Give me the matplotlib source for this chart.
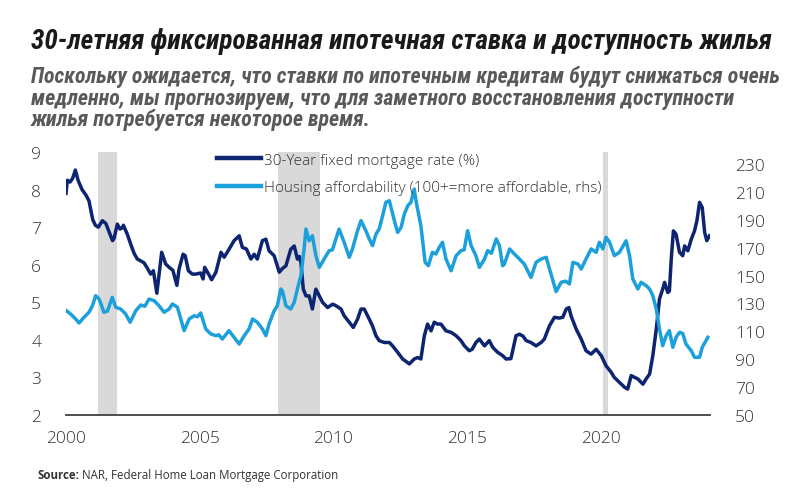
import matplotlib

matplotlib.use("Agg")

import matplotlib.pyplot as plt
from matplotlib import font_manager

# 30-year fixed mortgage rate, % (left axis)
rate_years = [
    2000.00, 2000.05, 2000.15, 2000.25, 2000.35, 2000.45, 2000.60, 2000.75, 2000.86, 2001.00,
    2001.10, 2001.21, 2001.36, 2001.49, 2001.60, 2001.74, 2001.80, 2001.92, 2002.02, 2002.10,
    2002.15, 2002.30, 2002.42, 2002.55, 2002.67, 2002.80, 2002.92, 2003.05, 2003.17, 2003.27,
    2003.40, 2003.58, 2003.73, 2003.86, 2004.00, 2004.15, 2004.23, 2004.38, 2004.46, 2004.58,
    2004.73, 2004.86, 2005.04, 2005.13, 2005.19, 2005.36, 2005.45, 2005.61, 2005.80, 2005.92,
    2006.10, 2006.29, 2006.48, 2006.60, 2006.75, 2006.92, 2007.04, 2007.16, 2007.35, 2007.48,
    2007.60, 2007.79, 2007.98, 2008.10, 2008.23, 2008.41, 2008.54, 2008.66, 2008.73, 2008.79,
    2008.88, 2008.98, 2009.10, 2009.22, 2009.35, 2009.48, 2009.60, 2009.79, 2009.98, 2010.10,
    2010.29, 2010.41, 2010.60, 2010.75, 2010.91, 2011.04, 2011.16, 2011.35, 2011.47, 2011.60,
    2011.72, 2011.91, 2012.10, 2012.22, 2012.41, 2012.60, 2012.85, 2013.03, 2013.16, 2013.28,
    2013.41, 2013.53, 2013.66, 2013.78, 2013.90, 2014.03, 2014.22, 2014.41, 2014.60, 2014.78,
    2014.91, 2015.09, 2015.20, 2015.34, 2015.47, 2015.66, 2015.84, 2015.97, 2016.15, 2016.34,
    2016.47, 2016.65, 2016.84, 2016.97, 2017.10, 2017.22, 2017.40, 2017.59, 2017.78, 2017.90,
    2018.09, 2018.28, 2018.45, 2018.59, 2018.72, 2018.82, 2018.90, 2019.09, 2019.28, 2019.46,
    2019.65, 2019.84, 2020.03, 2020.21, 2020.40, 2020.52, 2020.71, 2020.90, 2021.02, 2021.15,
    2021.28, 2021.40, 2021.59, 2021.71, 2021.84, 2021.96, 2022.09, 2022.21, 2022.33, 2022.40,
    2022.52, 2022.58, 2022.65, 2022.73, 2022.83, 2022.96, 2023.08, 2023.15, 2023.27, 2023.40,
    2023.52, 2023.61, 2023.71, 2023.81, 2023.90, 2023.98, 2024.08,
]
rate_values = [
    7.90, 8.25, 8.20, 8.30, 8.52, 8.25, 8.00, 7.85, 7.70, 7.20,
    7.05, 7.00, 7.17, 7.10, 6.90, 6.64, 6.70, 7.08, 6.95, 6.98,
    7.05, 6.80, 6.55, 6.30, 6.15, 6.10, 6.05, 5.90, 5.75, 5.84,
    5.24, 6.33, 6.02, 5.93, 5.85, 5.45, 5.88, 6.28, 6.24, 5.84,
    5.75, 5.75, 5.78, 5.62, 5.93, 5.72, 5.60, 5.80, 6.33, 6.20,
    6.41, 6.64, 6.77, 6.46, 6.42, 6.15, 6.28, 6.15, 6.64, 6.68,
    6.37, 6.24, 5.80, 5.90, 5.97, 6.41, 6.50, 6.15, 6.22, 6.06,
    5.35, 5.17, 5.17, 4.82, 5.35, 5.17, 5.00, 4.86, 4.95, 4.91,
    4.82, 4.64, 4.47, 4.33, 4.55, 4.82, 4.82, 4.55, 4.37, 4.11,
    3.98, 3.93, 3.93, 3.84, 3.67, 3.49, 3.36, 3.49, 3.53, 3.49,
    4.11, 4.42, 4.24, 4.47, 4.42, 4.42, 4.24, 4.20, 4.11, 3.98,
    3.84, 3.71, 3.75, 3.93, 4.02, 3.84, 3.98, 3.80, 3.67, 3.58,
    3.49, 3.50, 4.11, 4.15, 4.10, 3.98, 3.93, 3.84, 3.93, 4.02,
    4.37, 4.60, 4.58, 4.60, 4.82, 4.86, 4.64, 4.29, 4.02, 3.71,
    3.62, 3.75, 3.58, 3.31, 3.14, 3.00, 2.87, 2.74, 2.69, 3.05,
    3.00, 2.96, 2.82, 2.96, 3.09, 3.58, 4.29, 5.09, 5.35, 5.53,
    5.26, 5.30, 6.15, 6.90, 6.81, 6.33, 6.24, 6.50, 6.37, 6.68,
    6.90, 7.17, 7.66, 7.52, 6.86, 6.64, 6.77,
]

# Housing affordability index (right axis)
afford_years = [
    2000.00, 2000.17, 2000.36, 2000.49, 2000.67, 2000.86, 2000.99, 2001.11, 2001.24, 2001.42,
    2001.55, 2001.73, 2001.86, 2002.05, 2002.23, 2002.40, 2002.61, 2002.80, 2002.95, 2003.11,
    2003.30, 2003.48, 2003.67, 2003.86, 2003.98, 2004.17, 2004.42, 2004.61, 2004.79, 2004.92,
    2005.04, 2005.23, 2005.42, 2005.61, 2005.72, 2005.85, 2006.10, 2006.29, 2006.48, 2006.67,
    2006.85, 2006.98, 2007.16, 2007.35, 2007.48, 2007.60, 2007.79, 2007.91, 2008.04, 2008.10,
    2008.23, 2008.41, 2008.54, 2008.66, 2008.79, 2008.91, 2008.98, 2009.10, 2009.22, 2009.35,
    2009.48, 2009.66, 2009.85, 2009.97, 2010.10, 2010.22, 2010.41, 2010.60, 2010.72, 2010.91,
    2011.04, 2011.22, 2011.35, 2011.47, 2011.60, 2011.72, 2011.85, 2011.97, 2012.10, 2012.28,
    2012.41, 2012.54, 2012.66, 2012.79, 2012.91, 2013.03, 2013.12, 2013.28, 2013.44, 2013.56,
    2013.71, 2013.84, 2013.97, 2014.09, 2014.22, 2014.41, 2014.60, 2014.78, 2014.90, 2015.03,
    2015.16, 2015.34, 2015.47, 2015.66, 2015.78, 2015.92, 2016.10, 2016.22, 2016.34, 2016.40,
    2016.60, 2016.78, 2016.97, 2017.15, 2017.40, 2017.59, 2017.78, 2017.97, 2018.15, 2018.34,
    2018.53, 2018.70, 2018.84, 2018.97, 2019.16, 2019.28, 2019.46, 2019.65, 2019.84, 2019.96,
    2020.09, 2020.21, 2020.34, 2020.52, 2020.71, 2020.96, 2021.09, 2021.21, 2021.40, 2021.52,
    2021.71, 2021.84, 2021.96, 2022.09, 2022.21, 2022.33, 2022.46, 2022.58, 2022.71, 2022.83,
    2022.96, 2023.08, 2023.20, 2023.40, 2023.52, 2023.71, 2023.81, 2024.02,
]
afford_values = [
    125.0, 122.5, 118.9, 116.0, 120.0, 123.7, 128.4, 135.6, 133.2, 123.7,
    124.5, 134.4, 127.3, 126.0, 122.5, 116.5, 124.8, 128.9, 128.0, 133.2,
    132.0, 128.4, 123.7, 126.0, 129.6, 127.3, 110.5, 118.9, 121.2, 120.5,
    123.2, 111.7, 108.1, 106.9, 107.5, 104.5, 110.5, 105.7, 100.9, 106.9,
    111.7, 118.9, 116.5, 111.7, 106.9, 115.3, 124.8, 128.4, 140.4, 139.0,
    128.4, 126.0, 130.8, 140.4, 149.9, 169.1, 183.4, 175.0, 178.6, 164.3,
    155.9, 161.9, 167.9, 168.5, 176.3, 183.4, 173.9, 163.1, 169.1, 182.2,
    189.4, 182.2, 176.3, 171.5, 179.8, 183.4, 193.0, 202.6, 203.7, 190.0,
    181.0, 184.6, 194.2, 200.1, 202.6, 212.1, 201.4, 185.8, 159.5, 157.1,
    166.7, 165.5, 170.3, 173.9, 161.9, 153.5, 164.3, 167.9, 168.5, 182.2,
    171.5, 164.3, 155.9, 161.9, 167.9, 166.0, 176.3, 171.5, 157.1, 158.0,
    169.1, 165.5, 161.9, 158.3, 148.7, 159.5, 161.9, 163.1, 151.2, 138.5,
    145.2, 146.0, 144.0, 159.5, 158.3, 154.7, 161.9, 169.1, 166.7, 173.9,
    169.1, 177.5, 173.9, 164.3, 166.7, 175.0, 164.3, 147.6, 140.4, 145.2,
    142.8, 140.4, 135.6, 126.0, 111.7, 99.7, 106.9, 110.5, 98.6, 105.7,
    109.3, 108.5, 100.9, 96.1, 91.4, 91.4, 98.6, 105.7,
]

recessions = [(2001.2, 2001.9), (2007.95, 2009.5), (2020.1, 2020.3)]
year_ticks = [2000, 2005, 2010, 2015, 2020]
left_ticks = [2, 3, 4, 5, 6, 7, 8, 9]
right_ticks = [50, 70, 90, 110, 130, 150, 170, 190, 210, 230]

title = "30-летняя фиксированная ипотечная ставка и доступность жилья"
subtitle_lines = [
    "Поскольку ожидается, что ставки по ипотечным кредитам будут снижаться очень",
    "медленно, мы прогнозируем, что для заметного восстановления доступности",
    "жилья потребуется некоторое время.",
]
rate_label = "30-Year fixed mortgage rate (%)"
afford_label = "Housing affordability (100+=more affordable, rhs)"

NAVY = "#0d2471"
SKY = "#1ca0dc"
TEXT = "#333333"
W, H = 800, 489


def pick_font(*names):
    for name in names:
        try:
            font_manager.findfont(name, fallback_to_default=False)
            return name
        except ValueError:
            continue
    return "DejaVu Sans"


head_font = pick_font("Roboto Condensed", "Liberation Sans Narrow", "Roboto")
body_font = pick_font("Open Sans", "Noto Sans")

fig = plt.figure(figsize=(W / 100, H / 100), dpi=100)
renderer = fig.canvas.get_renderer()


def fit_width(text, target_px):
    width = text.get_window_extent(renderer).width
    text.set_fontsize(text.get_fontsize() * target_px / width)


# title and subtitle
t = fig.text(31 / W, 1 - 42 / H, title, family=head_font, weight="bold", style="italic",
             fontsize=16, color="#1a1a1a", va="center", ha="left")
fit_width(t, 743)

sub_texts = []
for line, y in zip(subtitle_lines, [77, 99, 120]):
    sub_texts.append(fig.text(31 / W, 1 - y / H, line, family=head_font, weight="bold",
                              style="italic", fontsize=12, color="#595959", va="center", ha="left"))
fit_width(sub_texts[0], 746)
for s in sub_texts[1:]:
    s.set_fontsize(sub_texts[0].get_fontsize())

# axes
ax = fig.add_axes([66 / W, 1 - 416 / H, (710 - 66) / W, (416 - 153) / H])
ax2 = ax.twinx()

for start, end in recessions:
    ax.axvspan(start, end, color="#d9d9d9", lw=0, zorder=0)

ax.plot(rate_years, rate_values, color=NAVY, lw=2.5, solid_joinstyle="round", zorder=3)
ax2.plot(afford_years, afford_values, color=SKY, lw=2.5, solid_joinstyle="round", zorder=3)

ax.set_xlim(2000, 2024.1)
ax.set_ylim(2, 9)
ax2.set_ylim(50, 50 + (416 - 153) / 1.394)
ax.set_xticks(year_ticks)
ax.set_yticks(left_ticks)
ax2.set_yticks(right_ticks)

for a in (ax, ax2):
    for side in ("top", "left", "right"):
        a.spines[side].set_visible(False)
ax2.spines["bottom"].set_visible(False)
ax.spines["bottom"].set_color("#404040")
ax.spines["bottom"].set_linewidth(1.3)

tick_kw = dict(length=0, labelsize=12.5, labelcolor=TEXT)
ax.tick_params(axis="x", pad=11, **tick_kw)
ax.tick_params(axis="y", pad=18, **tick_kw)
ax2.tick_params(axis="y", pad=18, **tick_kw)
for lab in ax.get_xticklabels() + ax.get_yticklabels() + ax2.get_yticklabels():
    lab.set_family(body_font)
    lab.set_fontweight("light")

# legend
h1 = plt.Line2D([], [], color=NAVY, lw=3.2)
h2 = plt.Line2D([], [], color=SKY, lw=3.2)
leg = ax2.legend([h1, h2], [rate_label, afford_label], loc="upper left",
                 bbox_to_anchor=((217 - 66) / (710 - 66), 0.997), frameon=False,
                 borderpad=0, borderaxespad=0,
                 handlelength=2.85, handletextpad=0.2, labelspacing=0.8,
                 prop={"family": body_font, "size": 11, "weight": "light"})
for txt in leg.get_texts():
    txt.set_color(TEXT)

# source line
src_b = fig.text(37 / W, 1 - 476 / H, "Source:", family=body_font, weight="bold",
                 fontsize=8.3, color=TEXT, va="center", ha="left")
bw = src_b.get_window_extent(renderer).width
fig.text((37 + bw + 3) / W, 1 - 476 / H, "NAR, Federal Home Loan Mortgage Corporation",
         family=body_font, fontsize=8.3, color=TEXT, va="center", ha="left")

fig.savefig("out.png", dpi=100)
